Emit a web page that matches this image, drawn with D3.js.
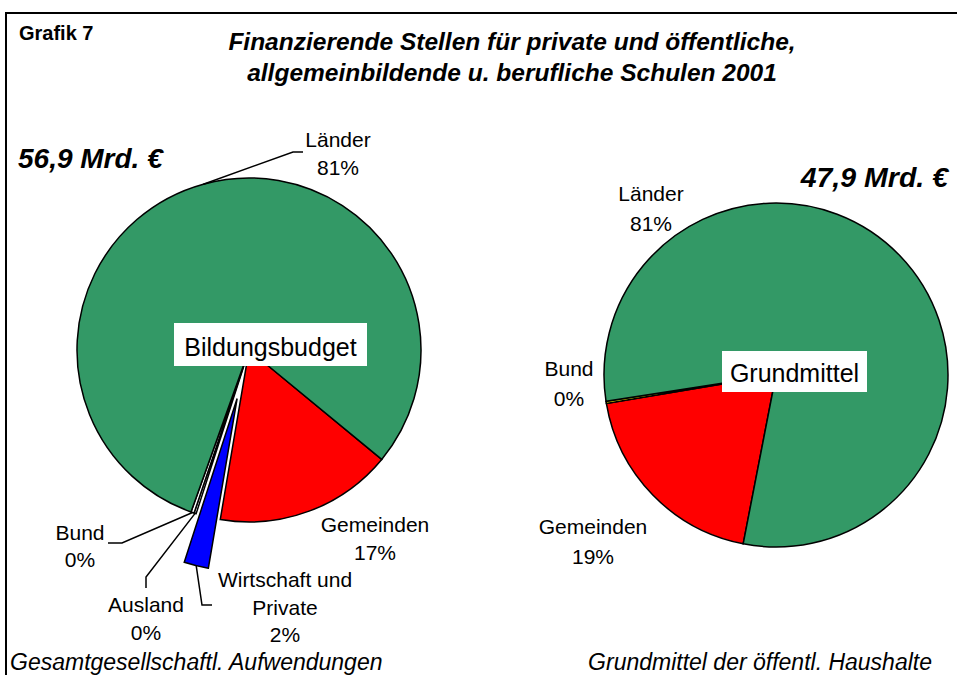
<!DOCTYPE html>
<html>
<head>
<meta charset="utf-8">
<script src="https://cdn.jsdelivr.net/npm/d3@7/dist/d3.min.js"></script>
<style>
  html, body { margin: 0; padding: 0; background: #fff; }
  svg { display: block; font-family: "Liberation Sans", Arial, sans-serif; }
</style>
</head>
<body>
<svg id="chart" width="957" height="675"></svg>
<script>
// ---------- DATA ----------
const leftCategories  = ["Gemeinden", "Wirtschaft und Private", "Ausland", "Bund", "Länder"];
const leftValues      = [16.7, 2.3, 0.2, 0.3, 80.5];       // % of 56,9 Mrd. €
const rightCategories = ["Gemeinden", "Bund", "Länder"];
const rightValues     = [19.3, 0.2, 80.5];                 // % of 47,9 Mrd. €
const leftTotal  = "56,9 Mrd. €";
const rightTotal = "47,9 Mrd. €";
const titleLines = ["Finanzierende Stellen für private und öffentliche,",
                    "allgemeinbildende u. berufliche Schulen 2001"];
const leftCaption  = "Gesamtgesellschaftl. Aufwendungen";
const rightCaption = "Grundmittel der öffentl. Haushalte";

// ---------- STYLE / LAYOUT ----------
const colors = {
  "Länder": "#339966", "Gemeinden": "#ff0000", "Wirtschaft und Private": "#0000ff",
  "Bund": "#ffff00", "Ausland": "#ffffff"
};
const leftColors = Object.assign({}, colors, {"Bund": "#ffffff"});
const svg = d3.select("#chart");
const FONT = 21;

// frame
svg.append("rect").attr("x", 6).attr("y", 13).attr("width", 1000).attr("height", 700)
   .attr("fill", "none").attr("stroke", "#000").attr("stroke-width", 2);

svg.append("text").attr("x", 19).attr("y", 40).attr("font-size", 20).attr("font-weight", "bold")
   .text("Grafik 7");
svg.selectAll("text.title").data(titleLines).enter().append("text")
   .attr("class", "title").attr("x", 512).attr("y", (d, i) => 50 + i * 31)
   .attr("text-anchor", "middle").attr("font-size", 24.5).attr("font-weight", "bold")
   .attr("font-style", "italic").text(d => d);

function drawPie(cfg) {
  const g = svg.append("g").attr("transform", `translate(${cfg.cx},${cfg.cy})`);
  const pie = d3.pie().sort(null).value(d => d.v)
      .startAngle(cfg.start * Math.PI / 180).endAngle(cfg.start * Math.PI / 180 + 2 * Math.PI);
  const arc = d3.arc().innerRadius(0).outerRadius(cfg.r);
  const data = cfg.cats.map((c, i) => ({c, v: cfg.vals[i]}));
  const arcs = pie(data);
  const offset = d => (cfg.explode[d.data.c] || 0);
  const mid = d => (d.startAngle + d.endAngle) / 2;
  g.selectAll("path").data(arcs).enter().append("path")
    .attr("d", arc)
    .attr("transform", d => {
      const o = offset(d), a = mid(d);
      return `translate(${o * Math.sin(a)},${-o * Math.cos(a)})`;
    })
    .attr("fill", d => cfg.colors[d.data.c])
    .attr("stroke", "#000").attr("stroke-width", 1.5).attr("stroke-linejoin", "miter");

  // labels
  arcs.forEach(d => {
    const L = cfg.labels[d.data.c];
    if (!L) return;
    const lines = L.lines.concat([Math.round(d.data.v) + "%"]);
    const t = svg.append("text").attr("text-anchor", "middle").attr("font-size", FONT);
    lines.forEach((s, i) => t.append("tspan").attr("x", L.x).attr("y", L.y + i * L.lh).text(s));
    if (L.leader) {
      const a = mid(d), rr = cfg.r + offset(d);
      const p0 = [cfg.cx + rr * Math.sin(a), cfg.cy - rr * Math.cos(a)];
      svg.append("path").attr("d", d3.line()([p0].concat(L.leader)))
         .attr("fill", "none").attr("stroke", "#000").attr("stroke-width", 1.5);
    }
  });

  // center box
  const bx = svg.append("g");
  bx.append("rect").attr("x", cfg.box.x).attr("y", cfg.box.y).attr("width", cfg.box.w)
    .attr("height", cfg.box.h).attr("fill", "#fff");
  bx.append("text").attr("x", cfg.box.x + cfg.box.w / 2).attr("y", cfg.box.y + cfg.box.h - 10.5)
    .attr("text-anchor", "middle").attr("font-size", 25).text(cfg.box.text);
}

drawPie({
  cx: 249, cy: 350, r: 172, start: 129.5,
  cats: leftCategories, vals: leftValues, colors: leftColors,
  explode: {"Wirtschaft und Private": 50},
  labels: {
    "Länder":    {lines: ["Länder"], x: 338, y: 147, lh: 28, leader: [[293, 152], [303, 152]]},
    "Gemeinden": {lines: ["Gemeinden"], x: 375, y: 532, lh: 28},
    "Wirtschaft und Private": {lines: ["Wirtschaft und", "Private"], x: 285, y: 587, lh: 27.5,
                  leader: [[202, 605], [212, 605]]},
    "Ausland":   {lines: ["Ausland"], x: 146, y: 612, lh: 28, leader: [[146, 577], [146, 588]]},
    "Bund":      {lines: ["Bund"], x: 80, y: 540, lh: 27, leader: [[122, 543], [108, 543]]}
  },
  box: {x: 174, y: 323, w: 193, h: 43, text: "Bildungsbudget"}
});

drawPie({
  cx: 776, cy: 375, r: 172, start: 191,
  cats: rightCategories, vals: rightValues, colors: colors,
  explode: {},
  labels: {
    "Länder":    {lines: ["Länder"], x: 651, y: 201, lh: 30},
    "Bund":      {lines: ["Bund"], x: 569, y: 376, lh: 29.5},
    "Gemeinden": {lines: ["Gemeinden"], x: 593, y: 534, lh: 30}
  },
  box: {x: 722, y: 351, w: 145, h: 41, text: "Grundmittel"}
});

// totals
svg.append("text").attr("x", 18).attr("y", 168).attr("font-size", 28).attr("font-weight", "bold")
   .attr("font-style", "italic").text(leftTotal);
svg.append("text").attr("x", 948).attr("y", 187).attr("text-anchor", "end").attr("font-size", 28.5)
   .attr("font-weight", "bold").attr("font-style", "italic").text(rightTotal);

// captions
svg.append("text").attr("x", 10).attr("y", 670).attr("font-size", 23).attr("font-style", "italic")
   .text(leftCaption);
svg.append("text").attr("x", 932).attr("y", 670).attr("text-anchor", "end").attr("font-size", 23)
   .attr("font-style", "italic").text(rightCaption);
</script>
</body>
</html>
